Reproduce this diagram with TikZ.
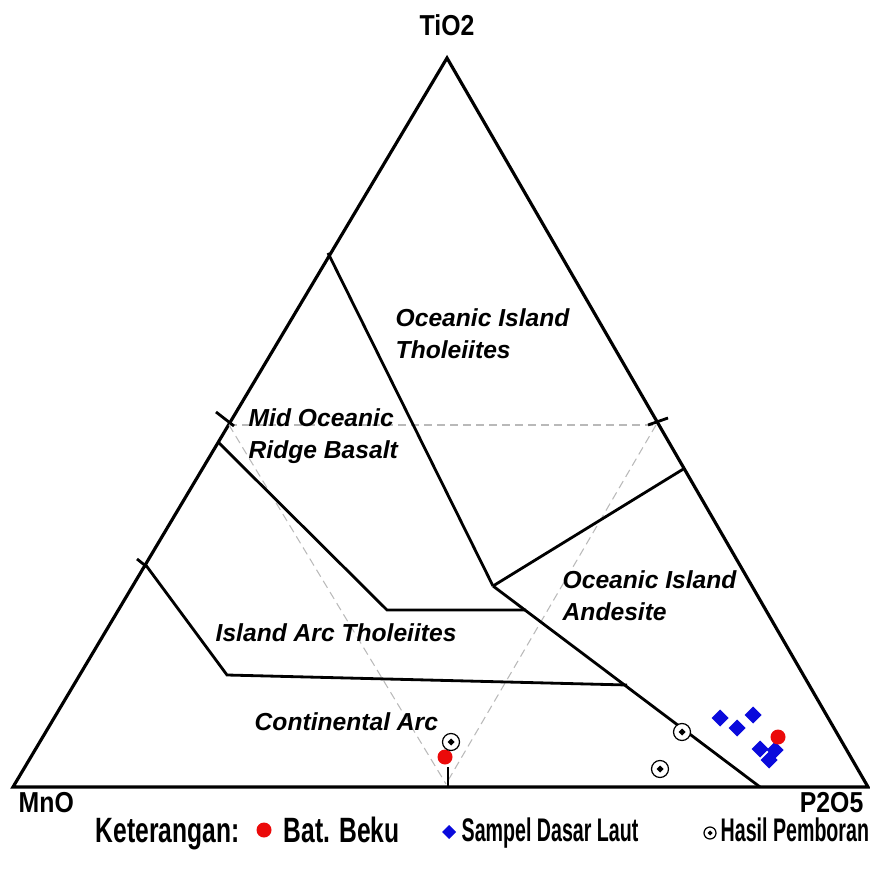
\documentclass[tikz,border=0pt]{standalone}
\usepackage{fontspec}
\setmainfont{Liberation Sans}
\newfontfamily\axisfont[FakeStretch=0.86]{Liberation Sans}
\newfontfamily\legfont[FakeStretch=0.7]{Liberation Sans}
\newfontfamily\legnarrow[FakeStretch=0.6]{Liberation Sans}
\definecolor{dotred}{RGB}{235,10,10}
\definecolor{diablue}{RGB}{10,10,220}

\begin{document}
\begin{tikzpicture}[x=0.01cm, y=-0.01cm,
	edge/.style={line width=0.9pt},
	bound/.style={line width=0.8pt},
	guide/.style={gray!55, line width=0.3pt, dash pattern=on 2.3pt off 1.4pt},
	field/.style={anchor=base west, inner sep=0pt, font=\fontsize{7}{8}\selectfont\bfseries\itshape},
	axis/.style={inner sep=0pt, font=\axisfont\fontsize{8.2}{9}\selectfont\bfseries},
	legend/.style={anchor=base west, inner sep=0pt, font=\legfont\fontsize{10}{11}\selectfont\bfseries},
	legendn/.style={anchor=base west, inner sep=0pt, font=\legnarrow\fontsize{9.3}{10}\selectfont\bfseries}]
	\useasboundingbox (0,0) rectangle (869,871);

	% triangle
	\coordinate (mno) at (13,787);
	\coordinate (tio) at (447,58);
	\coordinate (pho) at (868,787);
	\draw[edge, line join=miter] (mno) -- (tio) -- (pho) -- cycle;

	% dashed guide triangle
	\draw[guide] (229,425) -- (656,425);
	\draw[guide] (229,425) -- (446,784);
	\draw[guide] (656,425) -- (446,784);

	% field boundaries
	\draw[bound] (328,253) -- (493,586);
	\draw[bound] (685,468) -- (493,586);
	\draw[bound] (493,586) -- (760,787);
	\draw[bound] (218,442) -- (387,610) -- (526,610);
	\draw[bound] (145,564) -- (227,675) -- (627,685);

	% ticks
	\draw[bound] (216,412) -- (234,426);
	\draw[bound] (137,559) -- (147,567);
	\draw[bound] (648,425) -- (668,418);
	\draw[bound] (448,767) -- (448,787);

	% field names
	\node[field] (oit1) at (395,327) {Oceanic Island};
	\node[field] (oit2) at (395,359) {Tholeiites};
	\node[field] (morb1) at (248,427) {Mid Oceanic};
	\node[field] (morb2) at (248,459) {Ridge Basalt};
	\node[field] (oia1) at (562,588) {Oceanic Island};
	\node[field] (oia2) at (562,620) {Andesite};
	\node[field] (iat) at (215,641) {Island Arc Tholeiites};
	\node[field] (ca) at (254,730) {Continental Arc};

	% apex names
	\node[axis, anchor=base] (ltio) at (447,36) {TiO2};
	\node[axis, anchor=base west] (lmno) at (18,812) {MnO};
	\node[axis, anchor=base east] (lpho) at (864,812) {P2O5};

	% samples
	\foreach \p in {(720,718),(753,715),(737,728),(760,749),(775,750),(769,760)}
		\fill[diablue] \p +(0,-8.5) -- +(8.5,0) -- +(0,8.5) -- +(-8.5,0) -- cycle;
	\fill[dotred] (778,737) circle (7.5);
	\fill[dotred] (445,757) circle (7.5);
	\foreach \p in {(451,742),(682,732),(660,769)} {
		\draw[fill=white, line width=0.35pt] \p circle (8.5);
		\fill \p +(0,-3.5) -- +(3.5,0) -- +(0,3.5) -- +(-3.5,0) -- cycle;
	}

	% legend
	\node[legend] (ket) at (95,842) {Keterangan:};
	\fill[dotred] (264,830) circle (7.5);
	\node[legend] (bat) at (283,842) {Bat. Beku};
	\fill[diablue] (449,832) +(0,-7) -- +(7,0) -- +(0,7) -- +(-7,0) -- cycle;
	\node[legendn] (sdl) at (461,841) {Sampel Dasar Laut};
	\draw[fill=white, line width=0.35pt] (710,833) circle (6);
	\fill (710,833) +(0,-2.5) -- +(2.5,0) -- +(0,2.5) -- +(-2.5,0) -- cycle;
	\node[legendn] (hp) at (720,841) {Hasil Pemboran};
\end{tikzpicture}
\end{document}
